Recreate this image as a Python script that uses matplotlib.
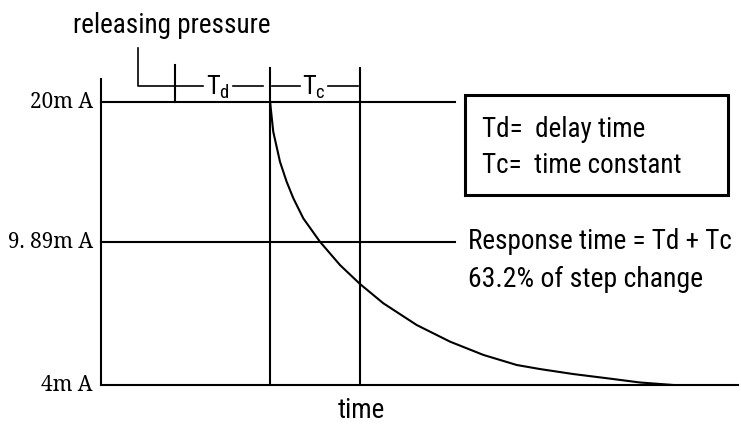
import matplotlib.pyplot as plt
from matplotlib.patches import Rectangle

# time axis in units of the time constant, current in mA
t_release = 0.82
t_td_end = 1.88
t_tc_end = 2.88

level_lo = 4.0
level_mid = 12.1      # drawn position of the 63.2 % line
level_hi = 20.0
level_labels = ["4m A", "9. 89m A", "20m A"]

# response curve
curve_t = [1.88, 1.886, 1.914, 1.989, 2.063, 2.137, 2.248, 2.433, 2.656, 2.878,
           3.137, 3.508, 3.878, 4.248, 4.619, 4.878, 5.244, 5.622, 5.989, 6.356]
curve_ma = [20.0, 19.66, 18.32, 16.62, 15.49, 14.56, 13.42, 12.10, 10.78, 9.71,
            8.62, 7.39, 6.45, 5.70, 5.13, 4.90, 4.62, 4.38, 4.14, 4.0]

narrow = ['Roboto Condensed', 'PT Sans Narrow', 'Liberation Sans', 'DejaVu Sans']
serif = ['Noto Serif', 'Liberation Serif', 'DejaVu Serif']

fig = plt.figure(figsize=(7.41, 4.29), dpi=100)
ax = fig.add_axes([0, 0, 1, 1])
ax.set_xlim(-1.122, 7.111)
ax.set_ylim(1.51, 25.77)
ax.axis('off')

lw = 1.5
k = 'black'

# axes and level lines
ax.plot([0, 0], [level_lo, 21.3], color=k, lw=lw)
ax.plot([0, 7.08], [level_lo, level_lo], color=k, lw=lw)
ax.plot([0, 3.93], [level_hi, level_hi], color=k, lw=lw)
ax.plot([0, 3.93], [level_mid, level_mid], color=k, lw=lw)

# verticals
ax.plot([t_release, t_release], [level_hi, 22.1], color=k, lw=lw)
ax.plot([t_td_end, t_td_end], [level_lo, 21.9], color=k, lw=lw)
ax.plot([t_tc_end, t_tc_end], [level_lo, 21.9], color=k, lw=lw)

# releasing pressure bracket and Td / Tc dimension lines
ax.plot([0.41, 0.41, 1.133], [23.05, 20.91, 20.91], color=k, lw=1.2)
ax.plot([1.467, 1.80], [20.91, 20.91], color=k, lw=1.2)
ax.plot([1.90, 2.211], [20.91, 20.91], color=k, lw=1.2)
ax.plot([2.522, 2.856], [20.91, 20.91], color=k, lw=1.2)

ax.text(1.30, 20.85, r'T$_\mathregular{d}$', family=narrow, fontsize=19,
        ha='center', va='center')
ax.text(2.37, 20.85, r'T$_\mathregular{c}$', family=narrow, fontsize=19,
        ha='center', va='center')
ax.text(0.79, 24.35, 'releasing pressure', family=narrow, fontsize=19.5,
        ha='center', va='center')

# response curve
ax.plot(curve_t, curve_ma, color=k, lw=1.5)

# level labels
for y, lab in zip([level_lo, level_mid, level_hi], level_labels):
    ax.text(-0.09, y, lab, family=serif, fontsize=15, ha='right', va='center',
            fontstretch='condensed')

# legend box
ax.add_patch(Rectangle((4.044, 14.74), 2.92, 5.66, fill=False, lw=2.2, ec=k))
ax.text(4.23, 18.45, 'Td=  delay time', family=narrow, fontsize=19.5, va='center')
ax.text(4.23, 16.4, 'Tc=  time constant', family=narrow, fontsize=19.5, va='center')

ax.text(4.08, 12.1, 'Response time = Td + Tc', family=narrow, fontsize=19.5,
        va='center')
ax.text(4.08, 9.95, '63.2% of step change', family=narrow, fontsize=20,
        va='center')

ax.text(2.89, 2.55, 'time', family=narrow, fontsize=19.5, ha='center', va='center')

fig.savefig('out.png', dpi=100)
